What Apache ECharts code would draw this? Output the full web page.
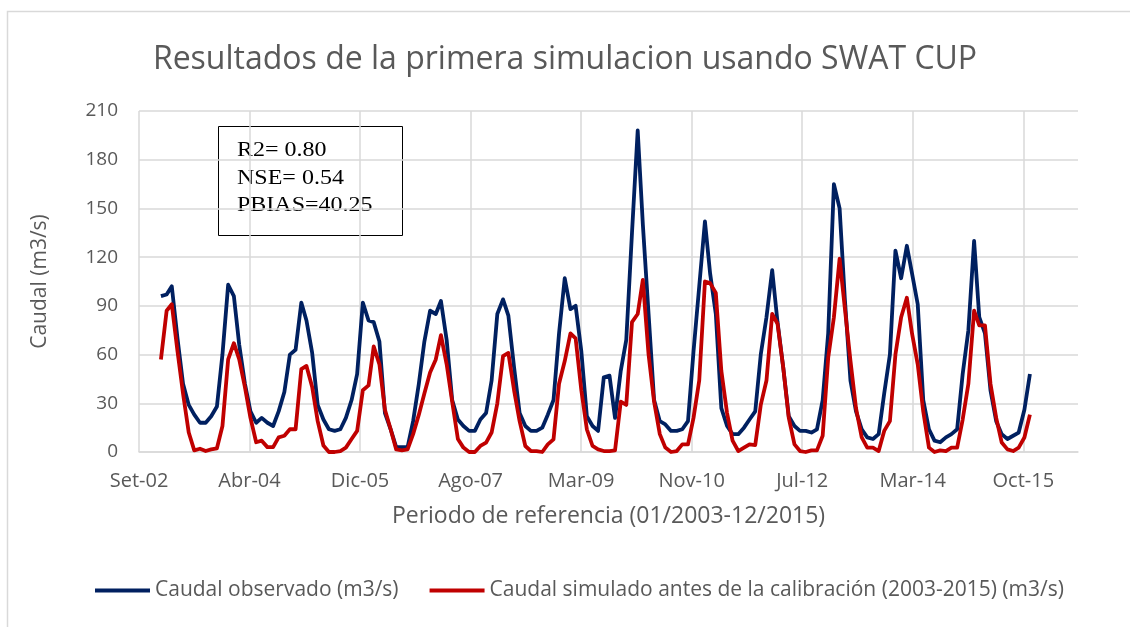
<!DOCTYPE html>
<html>
<head>
<meta charset="utf-8">
<script src="https://cdn.jsdelivr.net/npm/echarts@6/dist/echarts.min.js"></script>
<style>
  html, body { margin: 0; padding: 0; background: #ffffff; }
  #chart { width: 1130px; height: 627px; }
</style>
</head>
<body>
<div id="chart"></div>
<script>
// Monthly discharge, January 2003 to December 2015 (m3/s)
const firstYear = 2003;

const observed = [
  96, 97, 102, 70, 42, 29, 23, 18, 18, 22, 28, 60,
  103, 96, 66, 42, 25, 18, 21, 18, 16, 25, 37, 60,
  63, 92, 81, 61, 29, 20, 14, 13, 14, 21, 32, 48,
  92, 81, 80, 68, 24, 14, 3, 3, 3, 19, 42, 68,
  87, 85, 93, 69, 32, 20, 16, 13, 13, 20, 24, 44,
  85, 94, 84, 52, 24, 16, 13, 13, 15, 23, 32, 73,
  107, 88, 90, 62, 22, 16, 13, 46, 47, 21, 50, 69,
  135, 198, 140, 85, 32, 19, 17, 13, 13, 14, 19, 62,
  102, 142, 110, 85, 27, 16, 11, 11, 15, 20, 25, 60,
  83, 112, 80, 52, 22, 16, 13, 13, 12, 14, 32, 73,
  165, 150, 95, 44, 25, 14, 9, 8, 11, 36, 60, 124,
  107, 127, 110, 91, 32, 14, 7, 6, 9, 11, 14, 48,
  75, 130, 83, 73, 38, 19, 11, 8, 10, 12, 26, 48
];

const simulated = [
  57, 87, 91, 62, 36, 12, 1, 2, 0.6, 1.6, 2.3, 16,
  57, 67, 57, 40, 21, 6, 7, 3, 3, 9, 10, 14,
  14, 51, 53, 40, 19, 4, 0, 0, 0.6, 2.7, 8, 13,
  38, 41, 65, 54, 26, 14, 1.6, 1, 1.6, 11, 23, 36,
  49, 57, 72, 54, 31, 8, 2.7, 0, 0, 3.7, 5.8, 12,
  30, 59, 61, 38, 19, 3.7, 0.6, 0.6, 0, 4.7, 7.8, 42,
  56, 73, 70, 38, 14, 3.7, 1.6, 0.6, 0.6, 1, 31, 29,
  80, 85, 106, 60, 31, 11, 2.7, 0, 0.6, 4.7, 4.7, 21,
  44, 105, 104, 98, 50, 24, 7, 0.6, 2.7, 4.7, 4.3, 29,
  44, 85, 79, 52, 21, 4.7, 0.6, 0, 1, 1, 10, 58,
  83, 119, 89, 56, 27, 9, 2.7, 2.7, 0.6, 13, 19, 60,
  83, 95, 73, 54, 25, 2.7, 0, 1, 0.6, 2.7, 2.7, 20,
  42, 87, 78, 78, 42, 21, 5.8, 1.6, 0.6, 2.7, 8.9, 23
];

// Date axis: one labelled tick every 600 days from 4 Sep 2002
const tickLabels = ['Set-02', 'Abr-04', 'Dic-05', 'Ago-07', 'Mar-09', 'Nov-10', 'Jul-12', 'Mar-14', 'Oct-15'];
const tickStepDays = 600;
const axisStartUTC = Date.UTC(2002, 8, 4);
const axisEndDays = 5097;

const statLines = ['R2= 0.80', 'NSE= 0.54', 'PBIAS=40.25'];

const seriesNames = [
  'Caudal observado (m3/s)',
  'Caudal simulado antes de la calibración (2003-2015) (m3/s)'
];

const DAY_MS = 86400000;
function monthOffsetDays(i) {
  return (Date.UTC(firstYear, i, 1) - axisStartUTC) / DAY_MS;
}
function toPairs(values) {
  return values.map((v, i) => [monthOffsetDays(i), v]);
}

const SANS = '"Open Sans", "Noto Sans", sans-serif';
const GREY_TEXT = '#595959';
const GRID_LINE = '#D9D9D9';

const chart = echarts.init(document.getElementById('chart'), null, { renderer: 'canvas' });

chart.setOption({
  animation: false,
  backgroundColor: '#ffffff',
  title: {
    text: 'Resultados de la primera simulacion usando SWAT CUP',
    left: 'center',
    top: 39,
    textStyle: { fontFamily: SANS, fontSize: 32, fontWeight: 'normal', color: GREY_TEXT }
  },
  grid: { left: 139, right: 52, top: 111, bottom: 175, containLabel: false },
  xAxis: {
    type: 'value',
    min: 0,
    max: axisEndDays,
    interval: tickStepDays,
    name: 'Periodo de referencia (01/2003-12/2015)',
    nameLocation: 'middle',
    nameGap: 53,
    nameTextStyle: { fontFamily: SANS, fontSize: 23, color: GREY_TEXT },
    axisLine: { show: true, lineStyle: { color: GRID_LINE, width: 1.5 } },
    axisTick: { show: false },
    axisLabel: {
      fontFamily: SANS, fontSize: 20, color: GREY_TEXT, margin: 19,
      showMaxLabel: false,
      formatter: v => (v % tickStepDays === 0 ? (tickLabels[v / tickStepDays] || '') : '')
    },
    splitLine: { show: true, showMaxLine: false, lineStyle: { color: GRID_LINE, width: 1.5 } }
  },
  yAxis: {
    type: 'value',
    min: 0,
    max: 210,
    interval: 30,
    name: 'Caudal (m3/s)',
    nameLocation: 'middle',
    nameRotate: 90,
    nameGap: 88,
    nameTextStyle: { fontFamily: SANS, fontSize: 21, color: GREY_TEXT },
    axisLine: { show: false },
    axisTick: { show: false },
    axisLabel: { fontFamily: SANS, fontSize: 19, color: GREY_TEXT, margin: 21 },
    splitLine: { show: true, lineStyle: { color: GRID_LINE, width: 1.5 } }
  },
  legend: {
    left: 95,
    top: 580,
    padding: 0,
    icon: 'rect',
    itemWidth: 55,
    itemHeight: 4,
    itemGap: 31,
    textStyle: { fontFamily: SANS, fontSize: 21, color: GREY_TEXT },
    data: seriesNames
  },
  series: [
    {
      name: seriesNames[0],
      type: 'line',
      data: toPairs(observed),
      showSymbol: false,
      symbol: 'none',
      color: '#002060',
      lineStyle: { color: '#002060', width: 3.8, join: 'round' },
      z: 2
    },
    {
      name: seriesNames[1],
      type: 'line',
      data: toPairs(simulated),
      showSymbol: false,
      symbol: 'none',
      color: '#C00000',
      lineStyle: { color: '#C00000', width: 3.8, join: 'round' },
      z: 3
    }
  ],
  graphic: [
    {
      type: 'rect',
      silent: true,
      shape: { x: 7.5, y: 11.5, width: 1200, height: 700 },
      style: { fill: 'none', stroke: GRID_LINE, lineWidth: 1.5 },
      z: -10
    },
    {
      type: 'group',
      z: 100,
      children: [
        {
          type: 'rect',
          shape: { x: 218.5, y: 126.5, width: 184, height: 109 },
          style: { fill: '#ffffff', stroke: '#000000', lineWidth: 1 }
        }
      ].concat(statLines.map((t, k) => ({
        type: 'text',
        x: 237,
        y: 151 + k * 27.5,
        scaleX: 1.2,
        style: {
          text: t,
          fill: '#000000',
          font: '20px "Liberation Serif", "Times New Roman", serif',
          align: 'left',
          verticalAlign: 'middle'
        }
      })))
    }
  ]
});
</script>
</body>
</html>
